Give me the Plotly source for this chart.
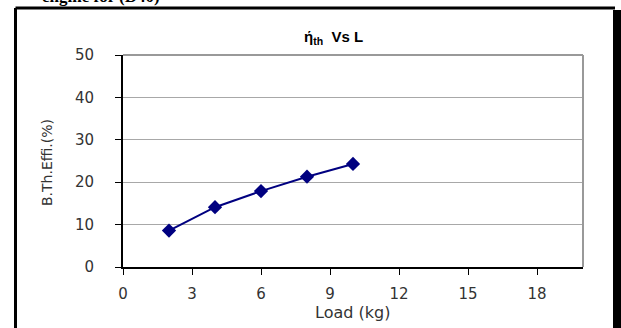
import plotly.graph_objects as go

load_kg = [2, 4, 6, 8, 10]
bth_eff = [8.6, 14.1, 17.9, 21.3, 24.3]
x_ticks = [0, 3, 6, 9, 12, 15, 18]
y_ticks = [0, 10, 20, 30, 40, 50]

W, H = 621, 328
L, R, T, B = 123, 38, 55, 61
pw, ph = W - L - R, H - T - B

def px(xp):
    return (xp - L) / pw

def py(yp):
    return (H - B - yp) / ph

fig = go.Figure()
fig.add_trace(go.Scatter(
    x=load_kg, y=bth_eff, mode="lines+markers",
    line=dict(color="#000080", width=2),
    marker=dict(symbol="diamond", size=11, color="#000080"),
    showlegend=False,
))

font = dict(family="DejaVu Sans, Verdana, sans-serif", size=15, color="#333")

fig.update_layout(
    width=W, height=H,
    margin=dict(l=L, r=R, t=T, b=B),
    paper_bgcolor="white", plot_bgcolor="white",
    font=font,
    xaxis=dict(range=[0, 20], tickvals=x_ticks, showgrid=False, zeroline=False,
               showline=True, linecolor="black", linewidth=2,
               ticks="outside", ticklen=6, tickcolor="black", tickwidth=1,
               ticklabelstandoff=6, tickfont=font),
    yaxis=dict(range=[0, 50], tickvals=y_ticks, showgrid=True, gridcolor="#a8a8a8",
               gridwidth=1, zeroline=False,
               showline=True, linecolor="black", linewidth=2,
               ticks="outside", ticklen=6, tickcolor="black", tickwidth=1,
               ticklabelstandoff=18, tickfont=font),
    shapes=[
        # gray plot frame top/right
        dict(type="line", xref="paper", yref="paper", x0=0, x1=1, y0=1, y1=1,
             line=dict(color="#999", width=2)),
        dict(type="line", xref="paper", yref="paper", x0=1, x1=1, y0=0, y1=1,
             line=dict(color="#999", width=2)),
        # outer frame
        dict(type="line", xref="paper", yref="paper", x0=px(15.5), x1=px(615), y0=py(8), y1=py(8),
             line=dict(color="black", width=3)),
        dict(type="line", xref="paper", yref="paper", x0=px(15.5), x1=px(15.5), y0=py(8), y1=py(335),
             line=dict(color="black", width=3)),
        dict(type="rect", xref="paper", yref="paper", x0=px(613), x1=px(622), y0=py(10), y1=py(335),
             line=dict(width=0), fillcolor="black"),
    ],
    annotations=[
        dict(text="<b>ή<sub>th</sub>  Vs L</b>", xref="paper", yref="paper",
             x=px(333), y=py(38), xanchor="center", yanchor="middle", showarrow=False,
             font=dict(family="Liberation Sans, Arial, sans-serif", size=15, color="black")),
        dict(text="B.Th.Effi.(%)", xref="paper", yref="paper", textangle=-90,
             x=px(47), y=py(163), xanchor="center", yanchor="middle", showarrow=False,
             font=dict(family="DejaVu Sans, Verdana, sans-serif", size=14, color="#333")),
        dict(text="Load (kg)", xref="paper", yref="paper",
             x=px(352), y=py(312), xanchor="center", yanchor="middle", showarrow=False,
             font=dict(family="DejaVu Sans, Verdana, sans-serif", size=16, color="#333")),
        dict(text="<b>engine for (D40)</b>", xref="paper", yref="paper",
             x=px(40), y=py(-3), xanchor="left", yanchor="middle", showarrow=False,
             font=dict(family="Liberation Serif, Times New Roman, serif", size=17, color="black")),
    ],
)

fig.write_html("out.html")
